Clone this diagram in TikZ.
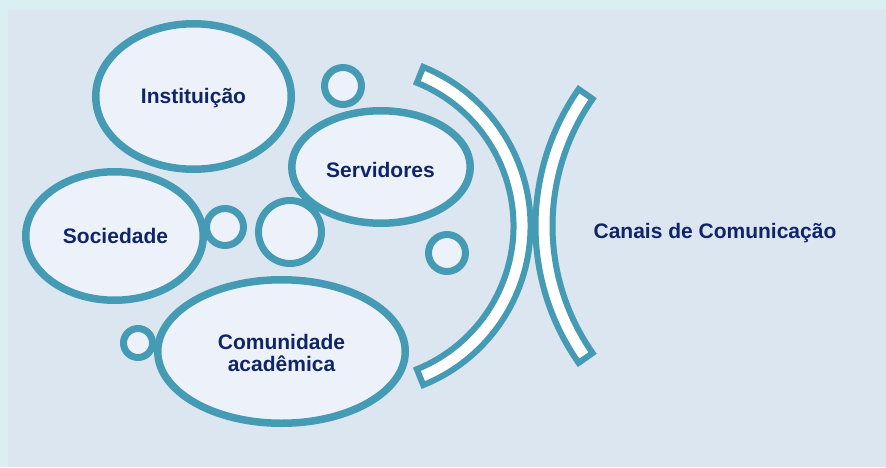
\documentclass[tikz,border=0pt]{standalone}
\usepackage{fontspec}
\setmainfont{Liberation Sans}
\usetikzlibrary{shapes.geometric,calc}
\definecolor{outerbg}{RGB}{219,238,243}
\definecolor{innerbg}{RGB}{220,230,241}
\definecolor{bubblefill}{RGB}{237,242,250}
\definecolor{teal}{RGB}{69,155,180}
\definecolor{navy}{RGB}{16,37,104}
\definecolor{shade}{RGB}{190,199,212}
\tikzset{
  bubble/.style={ellipse, draw=teal, fill=bubblefill, line width=7.5pt, inner sep=0pt},
  dot/.style={circle, draw=teal, fill=bubblefill, line width=7pt, inner sep=0pt},
  lbl/.style={text=navy, font=\bfseries\fontsize{21}{24}\selectfont, inner sep=0pt, anchor=base},
  band/.style={draw=teal, fill=white, line width=6pt, line join=miter},
  bandshadow/.style={draw=shade, fill=shade, line width=6pt, line join=miter}
}
\begin{document}
\begin{tikzpicture}[x=1pt,y=1pt]
\useasboundingbox (0,0) rectangle (886,467);
\fill[outerbg] (0,0) rectangle (886,467);
\fill[innerbg] (8,0) rectangle (886,457);

% ellipses
\node[bubble, minimum width=195.5pt, minimum height=145.5pt] (inst) at (193.5,370.5) {};
\node[bubble, minimum width=177.5pt, minimum height=128.5pt] (soc) at (114.5,231) {};
\node[bubble, minimum width=178.5pt, minimum height=112.5pt] (serv) at (381,300) {};
\node[bubble, minimum width=247.5pt, minimum height=143.5pt] (com) at (281.5,115.5) {};

% small circles
\node[dot, minimum size=37pt] (c1) at (343,381) {};
\node[dot, minimum size=37pt] (c2) at (225,240) {};
\node[dot, minimum size=63pt] (c3) at (290,235) {};
\node[dot, minimum size=29pt] (c4) at (138,124) {};
\node[dot, minimum size=37pt] (c5) at (447,214) {};

% arcs
\coordinate (cl) at (359,241);
\coordinate (cr) at (774,241);
\begin{scope}[shift={(2.5,-3)}]
\draw[bandshadow] ($(cl)+(-68:171.5)$) arc[start angle=-68, end angle=68, radius=171.5]
  -- ($(cl)+(68:154.5)$) arc[start angle=68, end angle=-68, radius=154.5] -- cycle;
\draw[bandshadow] ($(cr)+(145:238.5)$) arc[start angle=145, end angle=215, radius=238.5]
  -- ($(cr)+(215:221.5)$) arc[start angle=215, end angle=145, radius=221.5] -- cycle;
\end{scope}
\draw[band] ($(cl)+(-68:171.5)$) arc[start angle=-68, end angle=68, radius=171.5]
  -- ($(cl)+(68:154.5)$) arc[start angle=68, end angle=-68, radius=154.5] -- cycle;
\draw[band] ($(cr)+(145:238.5)$) arc[start angle=145, end angle=215, radius=238.5]
  -- ($(cr)+(215:221.5)$) arc[start angle=215, end angle=145, radius=221.5] -- cycle;

% labels
\node[lbl] (tinst) at (193.5,363.5) {Instituição};
\node[lbl] (tsoc) at (115.5,224) {Sociedade};
\node[lbl] (tserv) at (380.5,290) {Servidores};
\node[lbl] (tcom1) at (281.5,118) {Comunidade};
\node[lbl] (tcom2) at (281.5,96) {acadêmica};
\node[lbl] (tcan) at (715,228.5) {Canais de Comunicação};
\end{tikzpicture}
\end{document}
